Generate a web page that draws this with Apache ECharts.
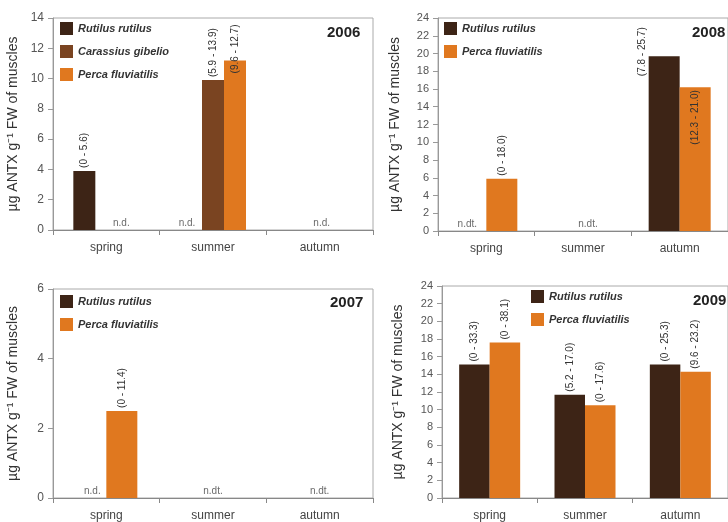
<!DOCTYPE html>
<html>
<head>
<meta charset="utf-8">
<script src="https://cdn.jsdelivr.net/npm/echarts@6/dist/echarts.min.js"></script>
<style>html,body{margin:0;padding:0;background:#fff}#c{width:728px;height:522px}</style>
</head>
<body>
<div id="c"></div>
<script>
// ---------- data ----------
const seasons = ['spring', 'summer', 'autumn'];
const yAxisName = 'µg ANTX g⁻¹ FW of muscles';

const years = ['2006', '2008', '2007', '2009'];

// 2006
const rutilus2006 = [3.9, null, null];
const carassius2006 = [null, 9.9, null];
const perca2006 = [null, 11.2, null];
const rutilus2006Range = ['(0 - 5.6)', null, null];
const carassius2006Range = [null, '(5.9 - 13.9)', null];
const perca2006Range = [null, '(9.6 - 12.7)', null];
const nd2006 = ['n.d.', 'n.d.', 'n.d.'];

// 2008
const rutilus2008 = [null, null, 19.7];
const perca2008 = [5.9, null, 16.2];
const rutilus2008Range = [null, null, '(7.8 - 25.7)'];
const perca2008Range = ['(0 - 18.0)', null, '(12.3 - 21.0)'];
const nd2008 = ['n.dt.', 'n.dt.', null];

// 2007
const rutilus2007 = [null, null, null];
const perca2007 = [2.5, null, null];
const rutilus2007Range = [null, null, null];
const perca2007Range = ['(0 - 11.4)', null, null];
const nd2007 = ['n.d.', 'n.dt.', 'n.dt.'];

// 2009
const rutilus2009 = [15.1, 11.7, 15.1];
const perca2009 = [17.6, 10.5, 14.3];
const rutilus2009Range = ['(0 - 33.3)', '(5.2 - 17.0)', '(0 - 25.3)'];
const perca2009Range = ['(0 - 38.1)', '(0 - 17.6)', '(9.6 - 23.2)'];
const nd2009 = [null, null, null];

// y axis scales
const yMax = [14, 24, 6, 24];
const yStep = [2, 2, 2, 2];

// ---------- styling / layout ----------
const FONT = '"Liberation Sans", Arial, sans-serif';
const C_RUT = '#3d2416';
const C_CAR = '#7a4421';
const C_PER = '#e0781f';

const grids = [
  { left: 53, top: 18, right: 355, bottom: 292 },
  { left: 438, top: 18, right: -10, bottom: 291 },
  { left: 53, top: 289, right: 355, bottom: 23 },
  { left: 442, top: 286, right: -11, bottom: 23 }
];
const barW = [22, 31, 31, 30.5];
const nameGaps = [33, 36, 33, 37];
const legendPos = [
  { left: 60, top: 22 }, { left: 444, top: 22 },
  { left: 60, top: 295 }, { left: 531, top: 290 }
];
const yearPos = [
  { left: 327, top: 25 }, { left: 692, top: 25 },
  { left: 330, top: 295 }, { left: 693, top: 293 }
];
const ndShift = [[15, -26, 2], [-19, 5, 0], [-14, 0, 0], [0, 0, 0]];
// special label placement: key "panel-series-index"
const specialLabel = {
  '0-2-1': { position: [11, 13] },
  '1-0-2': { position: [-6, 20] },
  '1-1-2': { position: 'insideTop', distance: 3, align: 'right' }
};

function barData(vals, ranges, panel, sIdx) {
  return vals.map((v, i) => {
    if (v === null) return null;
    const item = { value: v };
    const txt = ranges[i];
    const base = {
      show: !!txt, formatter: txt || '', rotate: 90, position: 'top', distance: 3,
      align: 'left', verticalAlign: 'middle', fontSize: 10, color: '#333', fontFamily: FONT
    };
    item.label = Object.assign(base, specialLabel[panel + '-' + sIdx + '-' + i] || {});
    return item;
  });
}

function barSeries(name, color, vals, ranges, panel, sIdx) {
  return {
    type: 'bar', name, xAxisIndex: panel, yAxisIndex: panel,
    barWidth: barW[panel], barGap: '0%',
    itemStyle: { color },
    data: barData(vals, ranges, panel, sIdx),
    animation: false
  };
}

function ndSeries(panel, nd) {
  const data = [];
  nd.forEach((t, i) => {
    if (!t) return;
    data.push({
      value: [i, 0],
      label: { show: true, formatter: t, position: 'top', distance: 2, offset: [ndShift[panel][i], 0],
        fontSize: 10, color: '#444', fontFamily: FONT }
    });
  });
  return {
    type: 'scatter', xAxisIndex: panel, yAxisIndex: panel, symbolSize: 0,
    data, silent: true, animation: false
  };
}

const panelsSeries = [
  [
    barSeries('Rutilus rutilus', C_RUT, rutilus2006, rutilus2006Range, 0, 0),
    barSeries('Carassius gibelio', C_CAR, carassius2006, carassius2006Range, 0, 1),
    barSeries('Perca fluviatilis', C_PER, perca2006, perca2006Range, 0, 2),
    ndSeries(0, nd2006)
  ],
  [
    barSeries('Rutilus rutilus', C_RUT, rutilus2008, rutilus2008Range, 1, 0),
    barSeries('Perca fluviatilis', C_PER, perca2008, perca2008Range, 1, 1),
    ndSeries(1, nd2008)
  ],
  [
    barSeries('Rutilus rutilus', C_RUT, rutilus2007, rutilus2007Range, 2, 0),
    barSeries('Perca fluviatilis', C_PER, perca2007, perca2007Range, 2, 1),
    ndSeries(2, nd2007)
  ],
  [
    barSeries('Rutilus rutilus', C_RUT, rutilus2009, rutilus2009Range, 3, 0),
    barSeries('Perca fluviatilis', C_PER, perca2009, perca2009Range, 3, 1),
    ndSeries(3, nd2009)
  ]
];

const legendNames = [
  ['Rutilus rutilus', 'Carassius gibelio', 'Perca fluviatilis'],
  ['Rutilus rutilus', 'Perca fluviatilis'],
  ['Rutilus rutilus', 'Perca fluviatilis'],
  ['Rutilus rutilus', 'Perca fluviatilis']
];

const option = {
  backgroundColor: '#fff',
  animation: false,
  grid: grids.map(g => Object.assign({ show: true, borderColor: '#aaa', borderWidth: 1, containLabel: false }, g)),
  title: years.map((y, i) => ({
    text: y, left: yearPos[i].left, top: yearPos[i].top, padding: 0,
    textStyle: { fontSize: 15, fontWeight: 'bold', color: '#222', fontFamily: FONT }
  })),
  legend: legendNames.map((names, i) => ({
    data: names, orient: 'vertical', left: legendPos[i].left, top: legendPos[i].top,
    padding: 0, itemWidth: 13, itemHeight: 13, itemGap: 10, icon: 'rect', selectedMode: false,
    textStyle: { fontSize: 11, fontStyle: 'italic', fontWeight: 'bold', color: '#333', fontFamily: FONT }
  })),
  xAxis: grids.map((g, i) => ({
    type: 'category', gridIndex: i, data: seasons,
    axisLine: { lineStyle: { color: '#888', width: 1 } },
    axisTick: { show: true, length: 5, lineStyle: { color: '#888' } },
    axisLabel: { fontSize: 12, color: '#444', margin: 12, fontFamily: FONT },
    splitLine: { show: false }
  })),
  yAxis: grids.map((g, i) => ({
    type: 'value', gridIndex: i, min: 0, max: yMax[i], interval: yStep[i],
    name: yAxisName, nameLocation: 'middle', nameGap: nameGaps[i],
    nameTextStyle: { fontSize: 14, color: '#333', fontFamily: FONT },
    axisLine: { show: true, lineStyle: { color: '#999', width: 1 } },
    axisTick: { show: true, length: 5, lineStyle: { color: '#999' } },
    axisLabel: { fontSize: i === 0 || i === 2 ? 12 : 11, color: '#555', margin: 9, fontFamily: FONT },
    splitLine: { show: false }
  })),
  series: [].concat(...panelsSeries)
};

const chart = echarts.init(document.getElementById('c'), null, { renderer: 'canvas' });
chart.setOption(option);
</script>
</body>
</html>
